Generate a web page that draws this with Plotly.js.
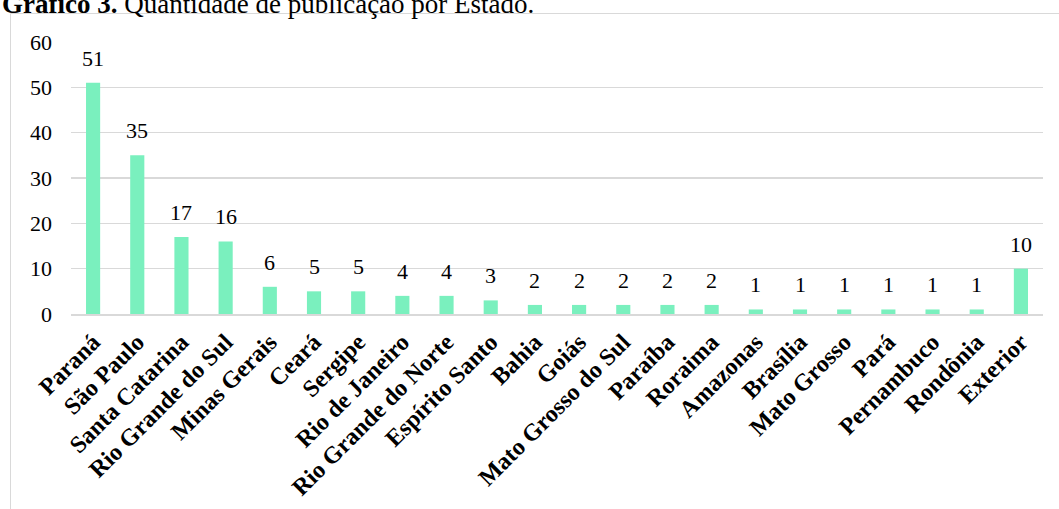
<!DOCTYPE html>
<html>
<head>
<meta charset="utf-8">
<script src="https://cdn.plot.ly/plotly-3.0.1.min.js"></script>
<style>
html,body{margin:0;padding:0;background:#fff;}
#chart{width:1059px;height:509px;}
</style>
</head>
<body>
<div id="chart"></div>
<script>
const categories = ["Paraná","São Paulo","Santa Catarina","Rio Grande do Sul","Minas Gerais","Ceará","Sergipe","Rio de Janeiro","Rio Grande do Norte","Espírito Santo","Bahia","Goiás","Mato Grosso do Sul","Paraíba","Roraima","Amazonas","Brasília","Mato Grosso","Pará","Pernambuco","Rondônia","Exterior"];
const values = [51,35,17,16,6,5,5,4,4,3,2,2,2,2,2,1,1,1,1,1,1,10];
const yTicks = [0,10,20,30,40,50,60];
const titleBold = "Gráfico 3.";
const titleRest = " Quantidade de publicação por Estado.";

const serif = "Liberation Serif, Times New Roman, serif";
const W = 1059, H = 509;
const m = {l:71, r:16, t:42, b:195};
const pw = W - m.l - m.r, ph = H - m.t - m.b;
const px = x => (x - m.l) / pw;
const py = y => (H - m.b - y) / ph;

const annotations = categories.map((c, i) => ({
  x: c, y: values[i], xref: 'x', yref: 'y',
  text: String(values[i]), showarrow: false,
  yanchor: 'bottom', yshift: 10,
  font: {family: serif, size: 22, color: '#000'}
}));
annotations.push({
  xref: 'paper', yref: 'paper', x: px(0), y: py(21),
  xanchor: 'left', yanchor: 'bottom', showarrow: false,
  text: '<b>' + titleBold + '</b>' + titleRest,
  font: {family: serif, size: 27, color: '#000'}
});

const data = [{
  type: 'bar', x: categories, y: values,
  marker: {color: 'rgb(122,240,190)'},
  hoverinfo: 'x+y'
}];

const layout = {
  width: W, height: H,
  margin: m,
  paper_bgcolor: '#fff', plot_bgcolor: '#fff',
  bargap: 0.68,
  showlegend: false,
  xaxis: {
    type: 'category', tickangle: -45,
    tickfont: {family: serif, size: 24, color: '#000', weight: 'bold'},
    showgrid: false, showline: true, linecolor: '#d9d9d9', linewidth: 1.5,
    ticks: '', ticklabelstandoff: 3
  },
  yaxis: {
    range: [0, 60], tickvals: yTicks,
    tickfont: {family: serif, size: 22, color: '#000'},
    showgrid: true, gridcolor: '#d9d9d9', gridwidth: 1.3,
    zeroline: false, showline: false, ticks: '', ticklabelstandoff: 18
  },
  annotations: annotations,
  shapes: [{
    type: 'rect', xref: 'paper', yref: 'paper',
    x0: px(10.5), x1: px(1080), y0: py(13.5), y1: py(540),
    line: {color: '#d9d9d9', width: 1}, fillcolor: 'rgba(0,0,0,0)', layer: 'below'
  }]
};

Plotly.newPlot('chart', data, layout, {displayModeBar: false, staticPlot: true});
</script>
</body>
</html>
